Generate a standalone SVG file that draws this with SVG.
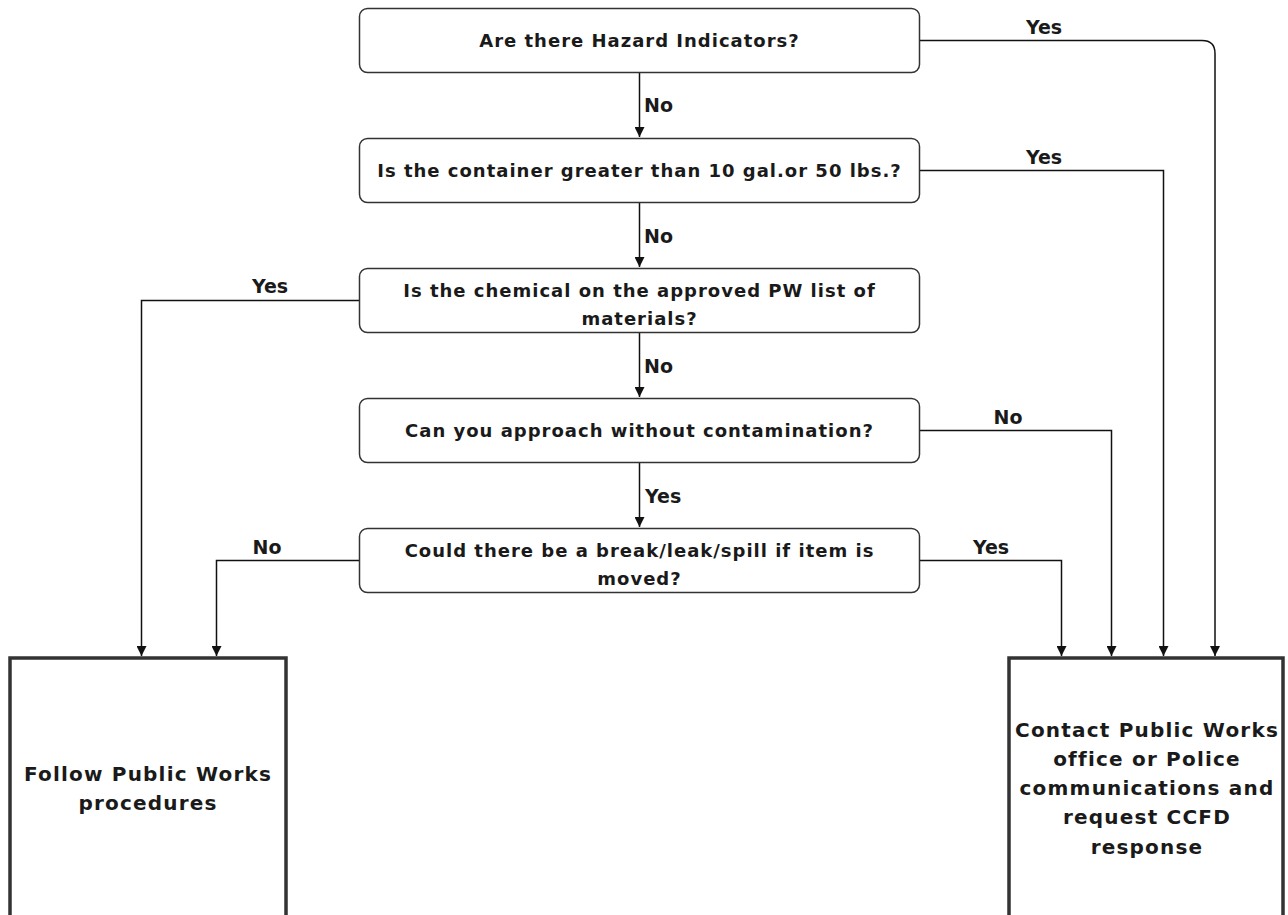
<svg xmlns="http://www.w3.org/2000/svg" width="1288" height="915" viewBox="0 0 1288 915">
<defs>
<style>
.dec{fill:#fff;stroke:#333;stroke-width:1.5}
.out{fill:#fff;stroke:#333;stroke-width:3.5}
.t{font-family:"DejaVu Sans",Verdana,sans-serif;font-weight:bold;font-size:18px;fill:#1a1a1a;text-anchor:middle;letter-spacing:1px}
.big{font-size:20px;letter-spacing:1.2px}
.lbl{font-family:"DejaVu Sans",Verdana,sans-serif;font-weight:bold;font-size:19px;fill:#1a1a1a}
.c{fill:none;stroke:#111;stroke-width:1.5}
</style>
<marker id="ah" viewBox="0 0 10 10" refX="10" refY="5" markerWidth="10" markerHeight="10" markerUnits="userSpaceOnUse" orient="auto">
<path d="M0,0 L10,5 L0,10 Z" fill="#111"/>
</marker>
</defs>
<rect width="1288" height="915" fill="#fff"/>
<g id="connectors">
<path class="c" d="M919,40.5 H1202 Q1215,40.5 1215,53.5 V656" marker-end="url(#ah)"/>
<path class="c" d="M919,170.5 H1163.5 V656" marker-end="url(#ah)"/>
<path class="c" d="M360,300.5 H141.5 V656" marker-end="url(#ah)"/>
<path class="c" d="M919,430.5 H1111.5 V656" marker-end="url(#ah)"/>
<path class="c" d="M360,560.5 H216.5 V656" marker-end="url(#ah)"/>
<path class="c" d="M919,560.5 H1061.5 V656" marker-end="url(#ah)"/>
<path class="c" d="M639.5,73 V137" marker-end="url(#ah)"/>
<path class="c" d="M639.5,203 V267" marker-end="url(#ah)"/>
<path class="c" d="M639.5,333 V397" marker-end="url(#ah)"/>
<path class="c" d="M639.5,463 V527" marker-end="url(#ah)"/>
<text class="lbl" x="1044" y="34" text-anchor="middle">Yes</text>
<text class="lbl" x="1044" y="164" text-anchor="middle">Yes</text>
<text class="lbl" x="270" y="293" text-anchor="middle">Yes</text>
<text class="lbl" x="1008" y="424" text-anchor="middle">No</text>
<text class="lbl" x="267" y="554" text-anchor="middle">No</text>
<text class="lbl" x="991" y="554" text-anchor="middle">Yes</text>
<text class="lbl" x="644" y="112">No</text>
<text class="lbl" x="644" y="243">No</text>
<text class="lbl" x="644" y="373">No</text>
<text class="lbl" x="645" y="503">Yes</text>
</g>
<g id="n1"><rect class="dec" x="359.5" y="8.5" width="560" height="64" rx="8"/><text class="t" x="639.5" y="47">Are there Hazard Indicators?</text></g>
<g id="n2"><rect class="dec" x="359.5" y="138.5" width="560" height="64" rx="8"/><text class="t" x="639.5" y="177">Is the container greater than 10 gal.or 50 lbs.?</text></g>
<g id="n3"><rect class="dec" x="359.5" y="268.5" width="560" height="64" rx="8"/><text class="t" x="639.5" y="297">Is the chemical on the approved PW list of</text><text class="t" x="639.5" y="325">materials?</text></g>
<g id="n4"><rect class="dec" x="359.5" y="398.5" width="560" height="64" rx="8"/><text class="t" x="639.5" y="437">Can you approach without contamination?</text></g>
<g id="n5"><rect class="dec" x="359.5" y="528.5" width="560" height="64" rx="8"/><text class="t" x="639.5" y="557">Could there be a break/leak/spill if item is</text><text class="t" x="639.5" y="585">moved?</text></g>
<g id="n6"><rect class="out" x="10" y="658" width="276" height="270"/><text class="t big" x="148" y="781">Follow Public Works</text><text class="t big" x="148" y="810">procedures</text></g>
<g id="n7"><rect class="out" x="1009" y="658" width="274" height="270"/><text class="t big" x="1147" y="737">Contact Public Works</text><text class="t big" x="1147" y="766">office or Police</text><text class="t big" x="1147" y="795">communications and</text><text class="t big" x="1147" y="824">request CCFD</text><text class="t big" x="1147" y="854">response</text></g>
</svg>
